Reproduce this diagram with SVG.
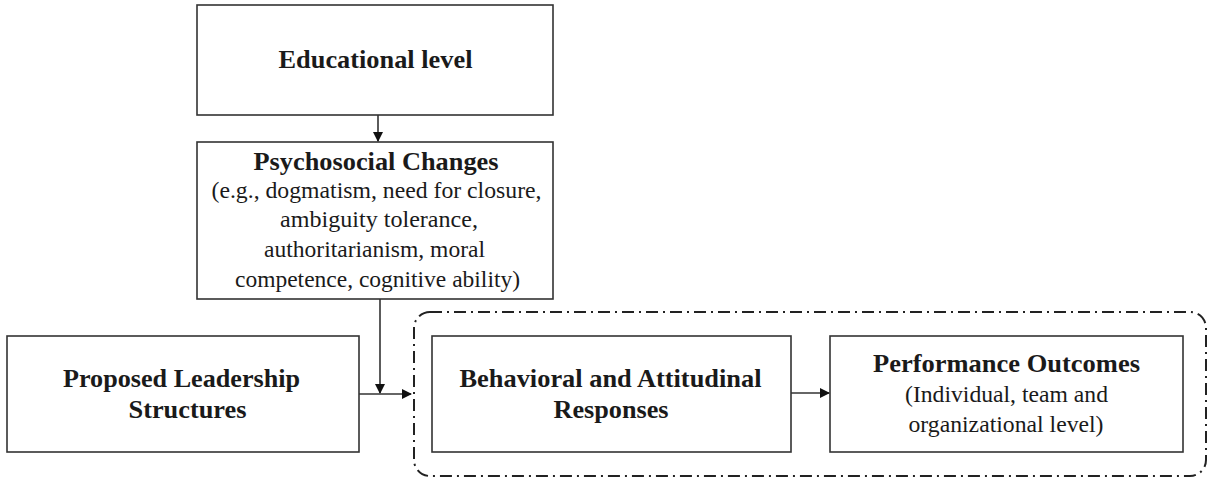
<svg xmlns="http://www.w3.org/2000/svg" width="1208" height="479" viewBox="0 0 1208 479">
<style>
.box{fill:#fff;stroke:#333;stroke-width:1.6}
.b{font-family:"Liberation Serif","Times New Roman",serif;font-weight:bold;font-size:25px;fill:#1a1a1a}
.r{font-family:"Liberation Serif","Times New Roman",serif;font-size:23px;fill:#1a1a1a}
.c{fill:none;stroke:#333;stroke-width:1.6}
.grp{fill:none;stroke:#222;stroke-width:2;stroke-dasharray:12 5 2 5}
</style>
<defs>
<marker id="ah" markerWidth="10" markerHeight="10" refX="9" refY="5" orient="auto" markerUnits="userSpaceOnUse">
<path d="M0,0 L10,5 L0,10 Z" fill="#111"/>
</marker>
</defs>
<rect width="1208" height="479" fill="#fff"/>
<g id="group-outline">
<rect class="grp" x="414" y="312" width="792" height="164" rx="16" ry="16"/>
</g>
<g id="educational-level">
<rect class="box" x="197" y="5" width="356" height="110"/>
<text class="b" x="375.5" y="68" text-anchor="middle" textLength="194" lengthAdjust="spacingAndGlyphs">Educational level</text>
</g>
<g id="psychosocial-changes">
<rect class="box" x="197" y="142" width="356" height="157"/>
<text class="b" x="376" y="170" text-anchor="middle" textLength="245" lengthAdjust="spacingAndGlyphs">Psychosocial Changes</text>
<text class="r" x="376.5" y="198" text-anchor="middle" textLength="330" lengthAdjust="spacingAndGlyphs">(e.g., dogmatism, need for closure,</text>
<text class="r" x="379" y="227" text-anchor="middle" textLength="198" lengthAdjust="spacingAndGlyphs">ambiguity tolerance,</text>
<text class="r" x="374.5" y="256.5" text-anchor="middle" textLength="221" lengthAdjust="spacingAndGlyphs">authoritarianism, moral</text>
<text class="r" x="377.5" y="286.5" text-anchor="middle" textLength="285" lengthAdjust="spacingAndGlyphs">competence, cognitive ability)</text>
</g>
<g id="proposed-leadership">
<rect class="box" x="7" y="336" width="352" height="116"/>
<text class="b" x="181.5" y="386.5" text-anchor="middle" textLength="237" lengthAdjust="spacingAndGlyphs">Proposed Leadership</text>
<text class="b" x="187.5" y="418" text-anchor="middle" textLength="118" lengthAdjust="spacingAndGlyphs">Structures</text>
</g>
<g id="behavioral-responses">
<rect class="box" x="432" y="336" width="359" height="116"/>
<text class="b" x="610.5" y="386.5" text-anchor="middle" textLength="302" lengthAdjust="spacingAndGlyphs">Behavioral and Attitudinal</text>
<text class="b" x="611" y="418" text-anchor="middle" textLength="115" lengthAdjust="spacingAndGlyphs">Responses</text>
</g>
<g id="performance-outcomes">
<rect class="box" x="830" y="336" width="353" height="116"/>
<text class="b" x="1006.5" y="371.5" text-anchor="middle" textLength="267" lengthAdjust="spacingAndGlyphs">Performance Outcomes</text>
<text class="r" x="1006.5" y="401.5" text-anchor="middle" textLength="203" lengthAdjust="spacingAndGlyphs">(Individual, team and</text>
<text class="r" x="1006" y="431.5" text-anchor="middle" textLength="195" lengthAdjust="spacingAndGlyphs">organizational level)</text>
</g>
<g id="connectors">
<line class="c" x1="378" y1="115" x2="378" y2="141" marker-end="url(#ah)"/>
<line class="c" x1="380" y1="299" x2="380" y2="393" marker-end="url(#ah)"/>
<line class="c" x1="359" y1="394" x2="411" y2="394" marker-end="url(#ah)"/>
<line class="c" x1="791" y1="393" x2="829" y2="393" marker-end="url(#ah)"/>
</g>
</svg>
